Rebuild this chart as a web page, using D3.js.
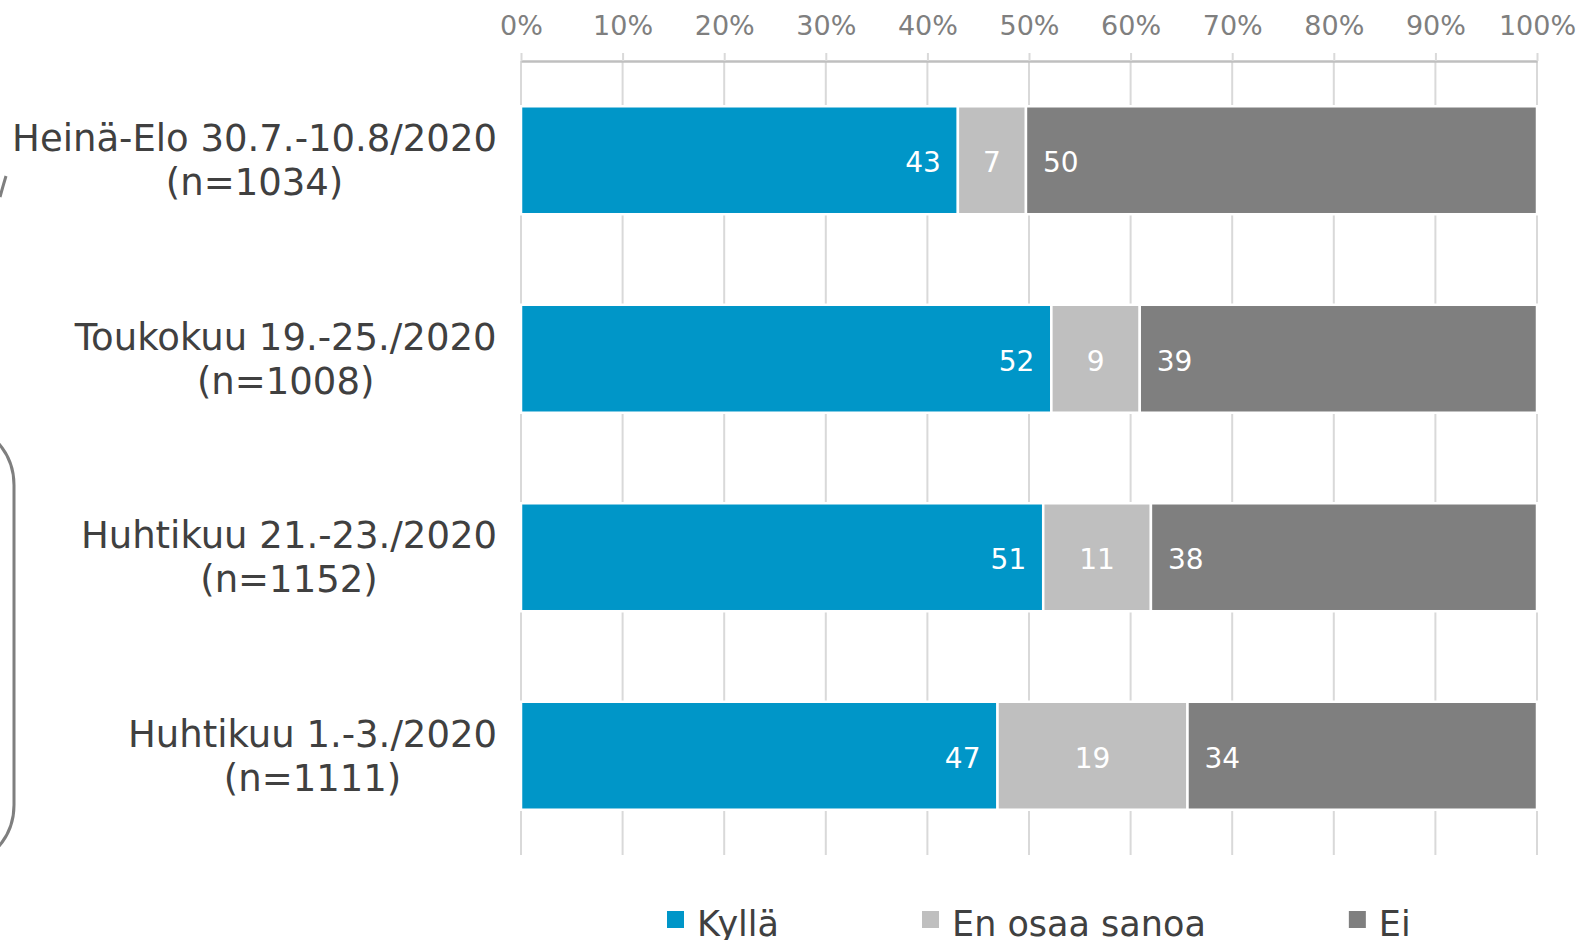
<!DOCTYPE html>
<html>
<head>
<meta charset="utf-8">
<script src="https://cdn.jsdelivr.net/npm/d3@7"></script>
<style>
  body { margin: 0; background: #fff; }
  svg { display: block; font-family: "DejaVu Sans", Verdana, sans-serif; }
</style>
</head>
<body>
<svg id="chart" width="1581" height="940"></svg>
<script>
// survey rounds, top to bottom
var categories = ["Heinä-Elo 30.7.-10.8/2020", "Toukokuu 19.-25./2020", "Huhtikuu 21.-23./2020", "Huhtikuu 1.-3./2020"];
var sampleSizes = [1034, 1008, 1152, 1111];

// shares in percent
var kylla = [43.0, 52.2, 51.4, 46.9];
var enOsaa = [6.7, 8.7, 10.6, 18.7];
var ei = [50.3, 39.1, 38.0, 34.4];

var seriesNames = ["Kyllä", "En osaa sanoa", "Ei"];
var seriesColors = ["#0096c8", "#bfbfbf", "#7f7f7f"];
var tickValues = [0, 10, 20, 30, 40, 50, 60, 70, 80, 90, 100];

var svg = d3.select('#chart');

var rows = categories.map(function(c, i) {
  return { cat: c, n: sampleSizes[i], "Kyllä": kylla[i], "En osaa sanoa": enOsaa[i], "Ei": ei[i] };
});
var stacked = d3.stack().keys(seriesNames)(rows);

var x = d3.scaleLinear().domain([0, 100]).range([521, 1537]);
var y = d3.scaleBand().domain(categories).range([61, 855])
  .paddingInner(0.456).paddingOuter(0.228);

// the rounded frame peeking in from the left edge
svg.append("rect")
  .attr("x", -150).attr("y", 421)
  .attr("width", 164).attr("height", 448)
  .attr("rx", 64)
  .attr("fill", "none").attr("stroke", "#7f7f7f").attr("stroke-width", 3);
svg.append("path")
  .attr("d", "M6,176 Q3,186 0,197")
  .attr("fill", "none").attr("stroke", "#7f7f7f").attr("stroke-width", 3);

// vertical gridlines
svg.append("g").selectAll("line")
  .data(tickValues).enter()
  .append("line")
  .attr("x1", function(d) { return x(d); })
  .attr("x2", function(d) { return x(d); })
  .attr("y1", 61).attr("y2", 855)
  .attr("stroke", "#d9d9d9").attr("stroke-width", 2);

// percent axis on top
var axis = svg.append("g")
  .attr("transform", "translate(0,61)")
  .call(d3.axisTop(x).tickValues(tickValues)
    .tickFormat(function(d) { return d + "%"; })
    .tickSize(8).tickSizeOuter(0).tickPadding(18));
axis.select(".domain").attr("stroke", "#bfbfbf").attr("stroke-width", 2.5);
axis.selectAll(".tick line").attr("stroke", "#d9d9d9").attr("stroke-width", 2);
axis.selectAll(".tick text")
  .attr("fill", "#7f7f7f")
  .style("font-size", "27px")
  .style("font-family", "DejaVu Sans, Verdana, sans-serif");

// bars
var layers = svg.append("g").selectAll("g")
  .data(stacked).enter()
  .append("g")
  .attr("fill", function(d, i) { return seriesColors[i]; });

layers.selectAll("rect")
  .data(function(d) { return d; }).enter()
  .append("rect")
  .attr("x", function(d) { return x(d[0]); })
  .attr("y", function(d) { return y(d.data.cat); })
  .attr("width", function(d) { return x(d[1]) - x(d[0]); })
  .attr("height", y.bandwidth())
  .attr("stroke", "#fff").attr("stroke-width", 2.5);

// value labels: inside end / centre / inside base like the original
layers.each(function(s, si) {
  d3.select(this).selectAll("text")
    .data(s).enter()
    .append("text")
    .attr("x", function(d) {
      if (si === 0) return x(d[1]) - 17;
      if (si === 1) return (x(d[0]) + x(d[1])) / 2;
      return x(d[0]) + 17;
    })
    .attr("y", function(d) { return y(d.data.cat) + y.bandwidth() / 2; })
    .attr("dy", "0.42em")
    .attr("text-anchor", si === 0 ? "end" : (si === 1 ? "middle" : "start"))
    .attr("fill", "#fff")
    .style("font-size", "28px")
    .text(function(d) { return Math.round(d[1] - d[0]); });
});

// category labels, two centred lines, block right aligned
svg.append("g").selectAll("text")
  .data(rows).enter()
  .append("text")
  .attr("text-anchor", "middle")
  .attr("fill", "#404040")
  .style("font-size", "37px")
  .each(function(d) {
    var t = d3.select(this);
    var cy = y(d.cat) + y.bandwidth() / 2;
    t.append("tspan").attr("x", 0).attr("y", cy - 9).text(d.cat);
    t.append("tspan").attr("x", 0).attr("y", cy + 35).text("(n=" + d.n + ")");
    var w = this.getBBox().width;
    t.attr("transform", "translate(" + (497 - w / 2) + ",0)");
  });

// legend along the bottom (cut by the frame, as in the original)
var legend = svg.append("g");
var lx = 667;
seriesNames.forEach(function(name, i) {
  var item = legend.append("g").attr("transform", "translate(" + lx + ",0)");
  item.append("rect")
    .attr("x", 0).attr("y", 911)
    .attr("width", 17).attr("height", 17)
    .attr("fill", seriesColors[i]);
  var txt = item.append("text")
    .attr("x", 30).attr("y", 936)
    .attr("fill", "#404040")
    .style("font-size", "35px")
    .text(name);
  lx += 30 + txt.node().getComputedTextLength() + 143;
});
</script>
</body>
</html>
